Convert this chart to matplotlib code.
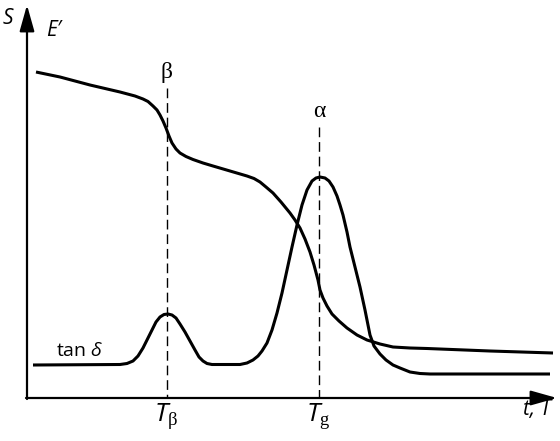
import matplotlib.pyplot as plt

# Curves (x, y in picture pixels, y grows downward)
e_x = [36, 60, 90, 120, 135, 143, 148, 153, 157, 160, 163, 166, 169, 172,
       176, 180, 186, 193, 203, 213, 230, 247, 254, 260, 266, 273, 281, 290,
       295, 300, 305, 310, 314, 318, 320, 323, 327, 332, 339, 347, 357, 367,
       380, 393, 410, 427, 490, 553]
e_y = [72, 77, 85, 92, 96, 99, 101.5, 106, 110, 115, 121, 128, 136, 143,
       149, 153, 156.5, 159.5, 163, 166, 171, 176, 178.5, 182, 187, 193, 202,
       213, 220, 228, 239, 252, 265, 280, 290, 298, 306, 314, 321, 328, 335,
       340, 344, 347, 348, 348.5, 351, 353]

tan_x = [33, 120, 127, 133, 138, 143, 147, 152, 156, 160, 164, 168, 172, 176,
         180, 185, 190, 195, 199, 203, 207, 212, 240, 247, 253, 258, 262, 267,
         272, 277, 282, 287, 292, 297, 302, 307, 312, 316, 320, 325, 329, 333,
         337, 340, 343, 347, 350, 355, 360, 365, 370, 374, 380, 386, 393, 400,
         410, 420, 430, 550]
tan_y = [365, 364.5, 363.5, 361, 356, 348, 340, 330, 322, 317, 314.5, 314, 315,
         318, 324, 332, 341, 350, 357, 361, 363.5, 364.5, 364.5, 363, 360, 356,
         351, 343, 330, 313, 293, 270, 247, 225, 205, 190, 181, 178, 177, 178,
         181, 187, 196, 205, 215, 232, 247, 267, 287, 310, 335, 346, 354, 360,
         365, 368, 372, 373.5, 374, 374]

# transitions: position, top of dashed line, greek label, tick label
trans_x = [167, 319]
trans_top = [88, 127]
trans_greek = ['β', 'α']
trans_tick = [r'$T_{\mathrm{\beta}}$', r'$T_{\mathrm{g}}$']

plt.rcParams['font.family'] = ['Open Sans', 'DejaVu Sans']
plt.rcParams['mathtext.fontset'] = 'custom'
plt.rcParams['mathtext.it'] = 'Open Sans:italic'
plt.rcParams['mathtext.rm'] = 'Liberation Serif'

fig = plt.figure(figsize=(5.6, 4.41), dpi=100)
ax = fig.add_axes([0, 0, 1, 1])
ax.set_xlim(0, 560)
ax.set_ylim(441, 0)
ax.axis('off')

# axes with arrows
arrow = dict(arrowstyle='-|>,head_length=1.6,head_width=0.45',
             lw=1.6, color='black', shrinkA=0, shrinkB=0)
ax.annotate('', xy=(27, 5), xytext=(27, 399), arrowprops=arrow)
ax.annotate('', xy=(557, 398), xytext=(26, 398), arrowprops=arrow)

ax.plot(e_x, e_y, color='black', lw=2.2, solid_capstyle='butt', solid_joinstyle='round')
ax.plot(tan_x, tan_y, color='black', lw=2.2, solid_capstyle='butt', solid_joinstyle='round')

for x, top, g, t in zip(trans_x, trans_top, trans_greek, trans_tick):
    ax.plot([x, x], [top, 398], color='black', lw=1.0, dashes=(7, 3.5))
    ax.text(x, top - 10, g, ha='center', va='baseline', fontsize=17,
            family='Liberation Serif')
    ax.text(x - 1, 401, t, ha='center', va='top', fontsize=19)

ax.text(3, 19, 'S', ha='left', va='center', fontsize=15, style='italic')
ax.text(46, 31, 'E′', ha='left', va='center', fontsize=15, style='italic')
ax.text(56, 351, r'tan $\delta$', ha='left', va='center', fontsize=14)
ax.text(551, 410, 't, T', ha='right', va='center', fontsize=15, style='italic')

fig.savefig('out.png', dpi=100)
